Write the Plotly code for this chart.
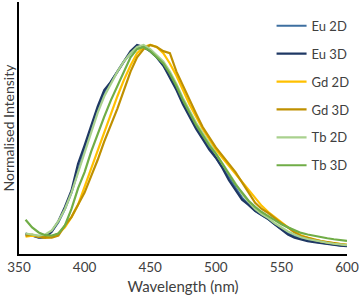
import plotly.graph_objects as go

wavelength = list(range(355, 601, 5))

eu_2d = [0.065, 0.06, 0.055, 0.055, 0.08, 0.125, 0.19, 0.27, 0.38, 0.48, 0.58, 0.67, 0.76, 0.81, 0.86, 0.91, 0.95, 0.98, 0.98, 0.96, 0.93, 0.89, 0.84, 0.78, 0.71, 0.65, 0.59, 0.54, 0.49, 0.44, 0.39, 0.34, 0.29, 0.245, 0.21, 0.18, 0.16, 0.14, 0.115, 0.092, 0.07, 0.055, 0.045, 0.037, 0.03, 0.025, 0.02, 0.016, 0.012, 0.009]
eu_3d = [0.07, 0.06, 0.05, 0.05, 0.08, 0.13, 0.20, 0.28, 0.41, 0.50, 0.60, 0.69, 0.77, 0.81, 0.86, 0.91, 0.96, 0.99, 0.98, 0.96, 0.93, 0.89, 0.83, 0.77, 0.70, 0.64, 0.58, 0.53, 0.48, 0.44, 0.39, 0.33, 0.28, 0.235, 0.21, 0.18, 0.16, 0.14, 0.115, 0.09, 0.065, 0.05, 0.04, 0.033, 0.028, 0.023, 0.019, 0.015, 0.011, 0.008]
gd_2d = [0.055, 0.06, 0.055, 0.05, 0.055, 0.07, 0.10, 0.15, 0.21, 0.30, 0.39, 0.48, 0.57, 0.66, 0.74, 0.82, 0.89, 0.95, 0.98, 0.99, 0.98, 0.95, 0.90, 0.84, 0.77, 0.70, 0.64, 0.58, 0.53, 0.48, 0.44, 0.40, 0.36, 0.32, 0.28, 0.24, 0.205, 0.175, 0.15, 0.125, 0.10, 0.08, 0.06, 0.05, 0.04, 0.033, 0.027, 0.022, 0.018, 0.015]
gd_3d = [0.06, 0.065, 0.055, 0.05, 0.05, 0.06, 0.11, 0.15, 0.21, 0.27, 0.35, 0.43, 0.52, 0.60, 0.68, 0.77, 0.86, 0.93, 0.97, 0.99, 0.98, 0.96, 0.95, 0.86, 0.79, 0.72, 0.655, 0.59, 0.54, 0.49, 0.45, 0.41, 0.37, 0.32, 0.27, 0.22, 0.19, 0.17, 0.145, 0.12, 0.10, 0.075, 0.058, 0.048, 0.04, 0.033, 0.027, 0.022, 0.018, 0.015]
tb_2d = [0.07, 0.065, 0.06, 0.065, 0.085, 0.13, 0.19, 0.27, 0.37, 0.47, 0.57, 0.66, 0.74, 0.80, 0.86, 0.91, 0.95, 0.98, 0.99, 0.97, 0.94, 0.91, 0.86, 0.80, 0.73, 0.67, 0.61, 0.56, 0.51, 0.46, 0.41, 0.36, 0.31, 0.265, 0.225, 0.19, 0.165, 0.145, 0.12, 0.10, 0.08, 0.065, 0.052, 0.043, 0.036, 0.03, 0.025, 0.02, 0.016, 0.013]
tb_3d = [0.137, 0.10, 0.075, 0.062, 0.06, 0.07, 0.11, 0.19, 0.29, 0.37, 0.47, 0.56, 0.64, 0.72, 0.79, 0.86, 0.93, 0.97, 0.98, 0.96, 0.93, 0.90, 0.85, 0.79, 0.72, 0.66, 0.60, 0.55, 0.50, 0.46, 0.41, 0.36, 0.31, 0.27, 0.23, 0.20, 0.175, 0.155, 0.135, 0.115, 0.10, 0.085, 0.073, 0.065, 0.058, 0.052, 0.047, 0.042, 0.038, 0.034]

series_names = ["Eu 2D", "Eu 3D", "Gd 2D", "Gd 3D", "Tb 2D", "Tb 3D"]
series_values = [eu_2d, eu_3d, gd_2d, gd_3d, tb_2d, tb_3d]
series_colors = ["#3E6FA0", "#1F3864", "#FFC000", "#BF9000", "#A9D18E", "#70AD47"]

x_ticks = [350, 400, 450, 500, 550, 600]

FONT = "Lato, 'Open Sans', sans-serif"
TXT = "#404040"

fig = go.Figure()
for name, vals, col in zip(series_names, series_values, series_colors):
    fig.add_trace(go.Scatter(x=wavelength, y=vals, mode="lines", name=name,
                             legendgroup=name,
                             line=dict(color=col, width=2.2)))

fig.update_layout(
    width=359, height=306,
    margin=dict(l=19, r=12, t=2, b=52, autoexpand=False),
    paper_bgcolor="white", plot_bgcolor="white",
    font=dict(family=FONT, color=TXT, size=13),
    showlegend=True,
    legend=dict(x=0.77, y=0.965, xanchor="left", yanchor="top",
                bgcolor="rgba(0,0,0,0)", font=dict(size=13, color=TXT),
                tracegroupgap=8, itemwidth=30),
    xaxis=dict(range=[350, 600], tickvals=x_ticks, ticktext=[str(t) for t in x_ticks],
               showgrid=False, zeroline=False, showline=True, linecolor="#000000",
               linewidth=1.5, ticks="", tickfont=dict(size=13.5, color=TXT),
               ticklabeloverflow="allow",
               title=dict(text="Wavelength (nm)", font=dict(size=15, color=TXT), standoff=8)),
    yaxis=dict(range=[-0.03, 1.2], showticklabels=False, showgrid=False, zeroline=False,
               showline=True, linecolor="#000000", linewidth=1.5, ticks="",
               title=dict(text="Normalised Intensity", font=dict(size=14, color=TXT), standoff=2)),
)

fig.write_html("out.html", config={"displayModeBar": False},
               post_script="document.body.style.margin='0';document.body.style.overflow='hidden';")
